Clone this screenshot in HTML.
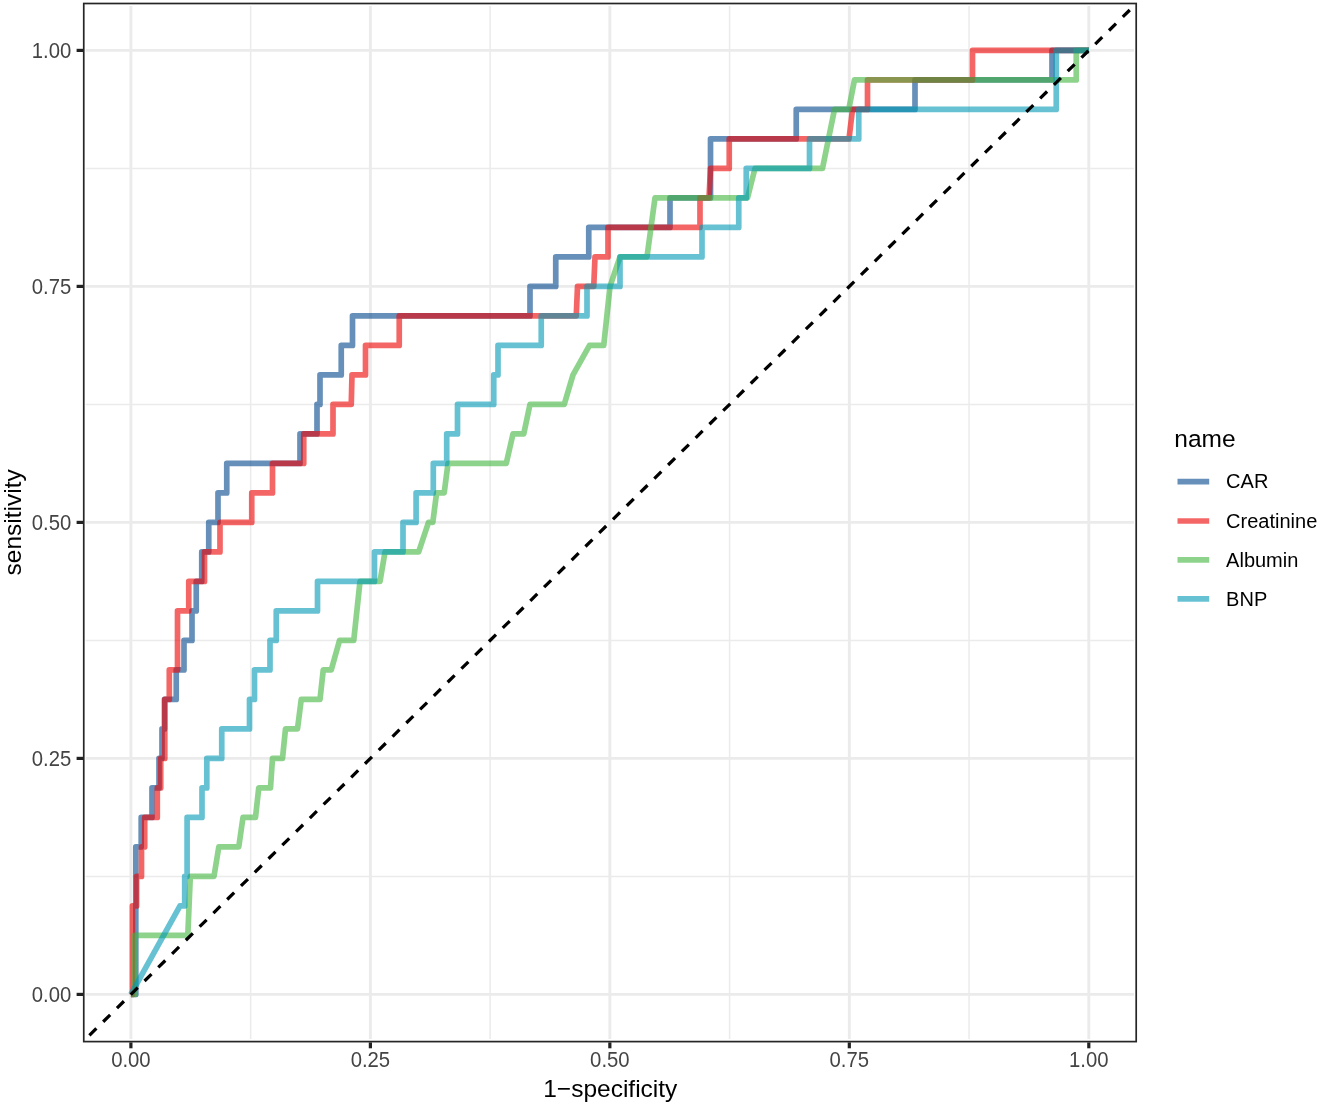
<!DOCTYPE html>
<html lang="en"><head><meta charset="utf-8"><title>ROC curves</title>
<style>html,body{margin:0;padding:0;background:#fff}body{width:1320px;height:1104px;overflow:hidden}svg{display:block}text{font-family:"Liberation Sans",Arial,sans-serif}</style></head><body>
<svg width="1320" height="1104" viewBox="0 0 1320 1104">
<rect width="1320" height="1104" fill="#fff"/>
<defs><clipPath id="panel"><rect x="85.7" y="6.0" width="1048.2" height="1032.9"/></clipPath></defs>
<g clip-path="url(#panel)">
<g stroke="#EBEBEB" stroke-width="1.5" fill="none">
<line x1="250.64" y1="3.5" x2="250.64" y2="1041.1"/>
<line x1="83.5" y1="876.40" x2="1136.3" y2="876.40"/>
<line x1="490.11" y1="3.5" x2="490.11" y2="1041.1"/>
<line x1="83.5" y1="640.40" x2="1136.3" y2="640.40"/>
<line x1="729.59" y1="3.5" x2="729.59" y2="1041.1"/>
<line x1="83.5" y1="404.40" x2="1136.3" y2="404.40"/>
<line x1="969.06" y1="3.5" x2="969.06" y2="1041.1"/>
<line x1="83.5" y1="168.40" x2="1136.3" y2="168.40"/>
</g>
<g stroke="#EBEBEB" stroke-width="2.9" fill="none">
<line x1="130.90" y1="3.5" x2="130.90" y2="1041.1"/>
<line x1="83.5" y1="994.40" x2="1136.3" y2="994.40"/>
<line x1="370.38" y1="3.5" x2="370.38" y2="1041.1"/>
<line x1="83.5" y1="758.40" x2="1136.3" y2="758.40"/>
<line x1="609.85" y1="3.5" x2="609.85" y2="1041.1"/>
<line x1="83.5" y1="522.40" x2="1136.3" y2="522.40"/>
<line x1="849.32" y1="3.5" x2="849.32" y2="1041.1"/>
<line x1="83.5" y1="286.40" x2="1136.3" y2="286.40"/>
<line x1="1088.80" y1="3.5" x2="1088.80" y2="1041.1"/>
<line x1="83.5" y1="50.40" x2="1136.3" y2="50.40"/>
</g>
<g fill="none" stroke-width="5.7" stroke-linejoin="round" stroke-linecap="butt" stroke-opacity="0.6">
<path stroke="#00468B" d="M130.90,994.40 L135.80,994.40 L135.80,846.90 L141.20,846.90 L141.20,817.40 L152.00,817.40 L152.00,787.90 L159.00,787.90 L159.00,758.40 L162.00,758.40 L162.00,728.90 L164.50,728.90 L164.50,699.40 L176.25,699.40 L176.25,669.90 L184.00,669.90 L184.00,640.40 L192.00,640.40 L192.00,610.90 L196.25,610.90 L196.25,581.40 L201.75,581.40 L201.75,551.90 L208.75,551.90 L208.75,522.40 L218.00,522.40 L218.00,492.90 L226.75,492.90 L226.75,463.40 L300.00,463.40 L300.00,433.90 L317.00,433.90 L317.00,404.40 L320.00,404.40 L320.00,374.90 L341.25,374.90 L341.25,345.40 L352.50,345.40 L352.50,315.90 L530.00,315.90 L530.00,286.40 L555.75,286.40 L555.75,256.90 L588.75,256.90 L588.75,227.40 L670.00,227.40 L670.00,197.90 L710.50,197.90 L710.50,138.90 L796.25,138.90 L796.25,109.40 L915.00,109.40 L915.00,79.90 L1052.00,79.90 L1052.00,50.40 L1089.00,50.40"/>
<path stroke="#ED0000" d="M130.90,994.40 L132.40,994.40 L132.40,905.90 L136.60,905.90 L136.60,876.40 L141.50,876.40 L141.50,846.90 L144.70,846.90 L144.70,817.40 L157.30,817.40 L157.30,787.90 L160.70,787.90 L160.70,758.40 L164.80,758.40 L164.80,699.40 L169.30,699.40 L169.30,669.90 L177.50,669.90 L177.50,610.90 L188.75,610.90 L188.75,581.40 L204.50,581.40 L204.50,551.90 L220.00,551.90 L220.00,522.40 L251.75,522.40 L251.75,492.90 L272.50,492.90 L272.50,463.40 L303.75,463.40 L303.75,433.90 L333.00,433.90 L333.00,404.40 L351.25,404.40 L352.00,374.90 L365.50,374.90 L365.50,345.40 L399.25,345.40 L399.25,315.90 L576.25,315.90 L577.50,286.40 L593.75,286.40 L595.00,256.90 L608.00,256.90 L608.00,227.40 L700.00,227.40 L700.00,197.90 L709.00,197.90 L710.50,168.40 L729.25,168.40 L729.25,138.90 L849.00,138.90 L852.50,109.40 L867.50,109.40 L867.50,79.90 L972.50,79.90 L972.50,50.40 L1089.00,50.40"/>
<path stroke="#42B540" d="M130.90,994.40 L134.60,994.40 L134.60,935.40 L187.80,935.40 L190.30,876.40 L214.00,876.40 L218.80,846.90 L238.75,846.90 L243.00,817.40 L255.50,817.40 L258.75,787.90 L270.50,787.90 L272.50,758.40 L282.50,758.40 L285.50,728.90 L297.50,728.90 L301.25,699.40 L320.00,699.40 L323.25,669.90 L331.25,669.90 L339.50,640.40 L353.75,640.40 L360.00,581.40 L380.00,581.40 L385.00,551.90 L418.70,551.90 L428.50,522.40 L432.80,522.40 L436.60,492.90 L444.20,492.90 L448.00,463.40 L506.25,463.40 L513.00,433.90 L523.75,433.90 L530.00,404.40 L564.25,404.40 L573.00,374.90 L589.50,345.40 L603.75,345.40 L610.00,286.40 L620.00,256.90 L647.00,256.90 L655.00,197.90 L747.50,197.90 L755.00,168.40 L822.50,168.40 L834.50,109.40 L848.75,109.40 L854.50,79.90 L1076.25,79.90 L1076.25,50.40 L1089.00,50.40"/>
<path stroke="#0099B4" d="M130.90,994.40 L180.00,905.90 L184.70,905.90 L184.70,876.40 L187.10,876.40 L187.10,817.40 L202.00,817.40 L202.00,787.90 L206.80,787.90 L206.80,758.40 L221.75,758.40 L221.75,728.90 L249.50,728.90 L249.50,699.40 L254.50,699.40 L254.50,669.90 L270.00,669.90 L270.00,640.40 L276.25,640.40 L276.25,610.90 L317.50,610.90 L317.50,581.40 L374.50,581.40 L374.50,551.90 L403.00,551.90 L403.00,522.40 L416.10,522.40 L416.10,492.90 L433.30,492.90 L433.30,463.40 L446.70,463.40 L446.70,433.90 L457.50,433.90 L457.50,404.40 L493.75,404.40 L493.75,374.90 L498.00,374.90 L498.00,345.40 L541.25,345.40 L541.25,315.90 L587.00,315.90 L587.00,286.40 L620.00,286.40 L620.00,256.90 L702.00,256.90 L702.00,227.40 L738.75,227.40 L738.75,197.90 L746.25,197.90 L746.25,168.40 L809.50,168.40 L809.50,138.90 L858.75,138.90 L858.75,109.40 L1056.25,109.40 L1056.25,50.40 L1089.00,50.40"/>
</g>
<line x1="61.84" y1="1062.46" x2="1146.27" y2="-6.24" stroke="#000" stroke-width="3.25" stroke-dasharray="9.8 9.545"/>
</g>
<rect x="83.75" y="3.5" width="1052.45" height="1038.1" fill="none" stroke="#262626" stroke-width="1.7"/>
<g stroke="#222" stroke-width="3.2">
<line x1="130.90" y1="1042.4" x2="130.90" y2="1048.3"/>
<line x1="76.6" y1="994.40" x2="83.0" y2="994.40"/>
<line x1="370.38" y1="1042.4" x2="370.38" y2="1048.3"/>
<line x1="76.6" y1="758.40" x2="83.0" y2="758.40"/>
<line x1="609.85" y1="1042.4" x2="609.85" y2="1048.3"/>
<line x1="76.6" y1="522.40" x2="83.0" y2="522.40"/>
<line x1="849.32" y1="1042.4" x2="849.32" y2="1048.3"/>
<line x1="76.6" y1="286.40" x2="83.0" y2="286.40"/>
<line x1="1088.80" y1="1042.4" x2="1088.80" y2="1048.3"/>
<line x1="76.6" y1="50.40" x2="83.0" y2="50.40"/>
</g>
<g fill="#444" font-size="20.3">
<text transform="translate(130.90,1067.2) scale(1,1.06)" text-anchor="middle">0.00</text>
<text transform="translate(71.3,1001.80) scale(1,1.06)" text-anchor="end">0.00</text>
<text transform="translate(370.38,1067.2) scale(1,1.06)" text-anchor="middle">0.25</text>
<text transform="translate(71.3,765.80) scale(1,1.06)" text-anchor="end">0.25</text>
<text transform="translate(609.85,1067.2) scale(1,1.06)" text-anchor="middle">0.50</text>
<text transform="translate(71.3,529.80) scale(1,1.06)" text-anchor="end">0.50</text>
<text transform="translate(849.32,1067.2) scale(1,1.06)" text-anchor="middle">0.75</text>
<text transform="translate(71.3,293.80) scale(1,1.06)" text-anchor="end">0.75</text>
<text transform="translate(1088.80,1067.2) scale(1,1.06)" text-anchor="middle">1.00</text>
<text transform="translate(71.3,57.80) scale(1,1.06)" text-anchor="end">1.00</text>
</g>
<text x="610.3" y="1096.5" font-size="24.5" text-anchor="middle" fill="#000">1−specificity</text>
<text transform="translate(21,522.3) rotate(-90)" font-size="24.5" text-anchor="middle" fill="#000">sensitivity</text>
<text x="1174.3" y="446.5" font-size="24.5" fill="#000">name</text>
<line x1="1177.5" y1="481.7" x2="1209.2" y2="481.7" stroke="#00468B" stroke-opacity="0.6" stroke-width="5.7"/>
<text x="1226.1" y="488.1" font-size="20" fill="#000">CAR</text>
<line x1="1177.5" y1="521.0" x2="1209.2" y2="521.0" stroke="#ED0000" stroke-opacity="0.6" stroke-width="5.7"/>
<text x="1226.1" y="527.6" font-size="20" fill="#000">Creatinine</text>
<line x1="1177.5" y1="559.9" x2="1209.2" y2="559.9" stroke="#42B540" stroke-opacity="0.6" stroke-width="5.7"/>
<text x="1226.1" y="567.0" font-size="20" fill="#000">Albumin</text>
<line x1="1177.5" y1="598.9" x2="1209.2" y2="598.9" stroke="#0099B4" stroke-opacity="0.6" stroke-width="5.7"/>
<text x="1226.1" y="605.9" font-size="20" fill="#000">BNP</text>
</svg></body></html>
